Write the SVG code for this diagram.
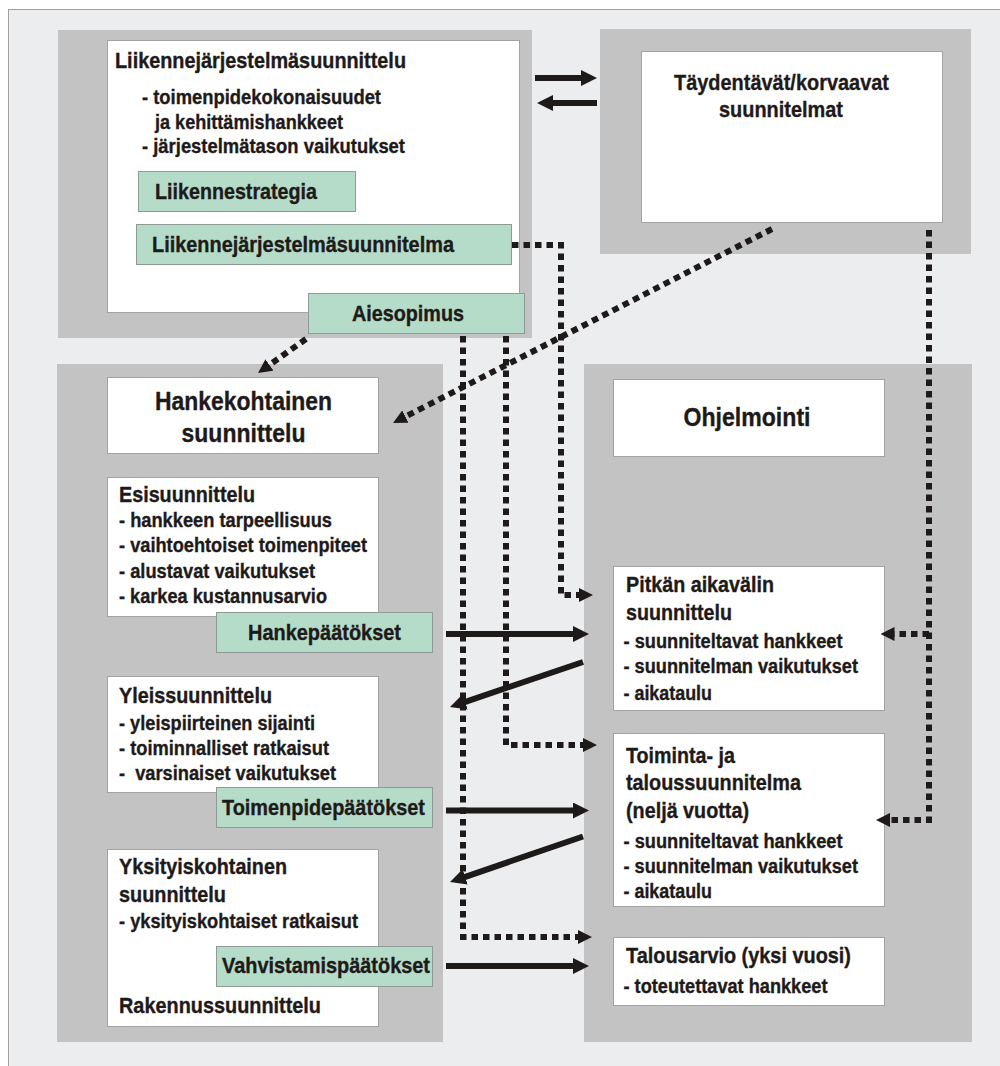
<svg xmlns="http://www.w3.org/2000/svg" width="1000" height="1066" viewBox="0 0 1000 1066">
  <defs>
    <style>
      text { font-family: "Liberation Sans Narrow", "Liberation Sans", Arial, sans-serif; font-weight: bold; fill: #1e1a1a; stroke: #1e1a1a; stroke-width: 0.35px; font-size: 20.5px; }
      .big { font-size: 26px; }
      .mid { font-size: 22.5px; }
      .head { font-size: 21.5px; }
      .sm { font-size: 19.5px; }
      .ctr { text-anchor: middle; }
      .pre { white-space: pre; }
      .panel { fill: #c3c3c3; }
      .box { fill: #ffffff; stroke: #a3a3a3; stroke-width: 1; }
      .tag { fill: #b5dcc8; stroke: #8d9b94; stroke-width: 1; }
      .solid { fill: none; stroke: #1e1a1a; stroke-width: 6; }
      .dot { fill: none; stroke: #1e1a1a; stroke-width: 6; stroke-dasharray: 6.5 5; }
    </style>
    <marker id="head" markerUnits="userSpaceOnUse" markerWidth="16" markerHeight="16" refX="6" refY="8" orient="auto">
      <path d="M0,0 L16,8 L0,16 z" fill="#1e1a1a"/>
    </marker>
    <marker id="dhead" markerUnits="userSpaceOnUse" markerWidth="14" markerHeight="14" refX="4" refY="7" orient="auto">
      <path d="M0,0 L14,7 L0,14 z" fill="#1e1a1a"/>
    </marker>
  </defs>

  <!-- page -->
  <rect x="0" y="0" width="1000" height="1066" fill="#ffffff"/>
  <rect x="8.5" y="9.5" width="1000" height="1066" fill="#ebedee" stroke="#a0a0a0" stroke-width="1"/>

  <!-- background panels -->
  <rect class="panel" x="58" y="30" width="474" height="308"/>
  <rect class="panel" x="600" y="29" width="371" height="225"/>
  <rect class="panel" x="57" y="364" width="386" height="678"/>
  <rect class="panel" x="584" y="364" width="388" height="678"/>

  <g id="liikennejarjestelmasuunnittelu">
    <rect class="box" x="107.5" y="40.5" width="412" height="272"/>
    <text class="head" x="115" y="68" textLength="291" lengthAdjust="spacingAndGlyphs">Liikennejärjestelmäsuunnittelu</text>
    <text x="142" y="104" textLength="239" lengthAdjust="spacingAndGlyphs">- toimenpidekokonaisuudet</text>
    <text x="155" y="129" textLength="188" lengthAdjust="spacingAndGlyphs">ja kehittämishankkeet</text>
    <text x="142" y="153" textLength="263" lengthAdjust="spacingAndGlyphs">- järjestelmätason vaikutukset</text>
  </g>

  <g id="liikennestrategia">
    <rect class="tag" x="138.5" y="171.5" width="217" height="40"/>
    <text class="head" x="155" y="199" textLength="162" lengthAdjust="spacingAndGlyphs">Liikennestrategia</text>
  </g>

  <g id="liikennejarjestelmasuunnitelma">
    <rect class="tag" x="136.5" y="224.5" width="375" height="40"/>
    <text class="head" x="152" y="252" textLength="302" lengthAdjust="spacingAndGlyphs">Liikennejärjestelmäsuunnitelma</text>
  </g>

  <g id="aiesopimus">
    <rect class="tag" x="308.5" y="293.5" width="216" height="40"/>
    <text class="head" x="352" y="321" textLength="112" lengthAdjust="spacingAndGlyphs">Aiesopimus</text>
  </g>

  <g id="taydentavat">
    <rect class="box" x="641.5" y="51.5" width="301" height="171"/>
    <text class="mid ctr" x="781.5" y="90" textLength="215" lengthAdjust="spacingAndGlyphs">Täydentävät/korvaavat</text>
    <text class="mid ctr" x="781" y="117" textLength="124" lengthAdjust="spacingAndGlyphs">suunnitelmat</text>
  </g>

  <g id="hankekohtainen">
    <rect class="box" x="107.5" y="377.5" width="271" height="76"/>
    <text class="big ctr" x="243.5" y="410" textLength="177" lengthAdjust="spacingAndGlyphs">Hankekohtainen</text>
    <text class="big ctr" x="243.5" y="442" textLength="124" lengthAdjust="spacingAndGlyphs">suunnittelu</text>
  </g>

  <g id="esisuunnittelu">
    <rect class="box" x="107.5" y="477.5" width="271" height="139"/>
    <text class="head" x="119" y="502" textLength="136" lengthAdjust="spacingAndGlyphs">Esisuunnittelu</text>
    <text x="119" y="527" textLength="213" lengthAdjust="spacingAndGlyphs">- hankkeen tarpeellisuus</text>
    <text x="119" y="552" textLength="248" lengthAdjust="spacingAndGlyphs">- vaihtoehtoiset toimenpiteet</text>
    <text x="119" y="577.5" textLength="196" lengthAdjust="spacingAndGlyphs">- alustavat vaikutukset</text>
    <text x="119" y="603" textLength="208" lengthAdjust="spacingAndGlyphs">- karkea kustannusarvio</text>
  </g>

  <g id="hankepaatokset">
    <rect class="tag" x="216.5" y="612.5" width="216" height="40"/>
    <text class="head" x="248" y="640" textLength="153" lengthAdjust="spacingAndGlyphs">Hankepäätökset</text>
  </g>

  <g id="yleissuunnittelu">
    <rect class="box" x="107.5" y="676.5" width="271" height="116"/>
    <text class="head" x="119" y="703" textLength="153" lengthAdjust="spacingAndGlyphs">Yleissuunnittelu</text>
    <text x="119" y="730" textLength="196" lengthAdjust="spacingAndGlyphs">- yleispiirteinen sijainti</text>
    <text x="119" y="755" textLength="210" lengthAdjust="spacingAndGlyphs">- toiminnalliset ratkaisut</text>
    <text class="pre" x="119" y="780" textLength="217" lengthAdjust="spacingAndGlyphs">-  varsinaiset vaikutukset</text>
  </g>

  <g id="toimenpidepaatokset">
    <rect class="tag" x="216.5" y="787.5" width="216" height="40"/>
    <text class="head" x="222" y="815" textLength="203" lengthAdjust="spacingAndGlyphs">Toimenpidepäätökset</text>
  </g>

  <g id="yksityiskohtainen">
    <rect class="box" x="107.5" y="849.5" width="271" height="177"/>
    <text class="head" x="119" y="874" textLength="168" lengthAdjust="spacingAndGlyphs">Yksityiskohtainen</text>
    <text class="head" x="119" y="901.5" textLength="107" lengthAdjust="spacingAndGlyphs">suunnittelu</text>
    <text x="119" y="928" textLength="239" lengthAdjust="spacingAndGlyphs">- yksityiskohtaiset ratkaisut</text>
    <text class="head" x="119" y="1013" textLength="202" lengthAdjust="spacingAndGlyphs">Rakennussuunnittelu</text>
  </g>

  <g id="vahvistamispaatokset">
    <rect class="tag" x="216.5" y="946.5" width="216" height="40"/>
    <text class="head" x="222" y="973" textLength="208" lengthAdjust="spacingAndGlyphs">Vahvistamispäätökset</text>
  </g>

  <g id="ohjelmointi">
    <rect class="box" x="613.5" y="379.5" width="271" height="77"/>
    <text class="big ctr" x="747" y="426" textLength="127" lengthAdjust="spacingAndGlyphs">Ohjelmointi</text>
  </g>

  <g id="pitkan-aikavalin">
    <rect class="box" x="613.5" y="566.5" width="271" height="144"/>
    <text class="head" x="626" y="592" textLength="148" lengthAdjust="spacingAndGlyphs">Pitkän aikavälin</text>
    <text class="head" x="626" y="620" textLength="106" lengthAdjust="spacingAndGlyphs">suunnittelu</text>
    <text class="sm" x="623.5" y="648" textLength="219" lengthAdjust="spacingAndGlyphs">- suunniteltavat hankkeet</text>
    <text class="sm" x="623.5" y="673" textLength="234.5" lengthAdjust="spacingAndGlyphs">- suunnitelman vaikutukset</text>
    <text class="sm" x="623.5" y="700" textLength="88.5" lengthAdjust="spacingAndGlyphs">- aikataulu</text>
  </g>

  <g id="toiminta-ja-taloussuunnitelma">
    <rect class="box" x="613.5" y="733.5" width="271" height="173"/>
    <text class="head" x="626" y="763" textLength="109" lengthAdjust="spacingAndGlyphs">Toiminta- ja</text>
    <text class="head" x="626" y="790" textLength="175" lengthAdjust="spacingAndGlyphs">taloussuunnitelma</text>
    <text class="head" x="626" y="818" textLength="123" lengthAdjust="spacingAndGlyphs">(neljä vuotta)</text>
    <text class="sm" x="623.5" y="848" textLength="219" lengthAdjust="spacingAndGlyphs">- suunniteltavat hankkeet</text>
    <text class="sm" x="623.5" y="873" textLength="234.5" lengthAdjust="spacingAndGlyphs">- suunnitelman vaikutukset</text>
    <text class="sm" x="623.5" y="898" textLength="88.5" lengthAdjust="spacingAndGlyphs">- aikataulu</text>
  </g>

  <g id="talousarvio">
    <rect class="box" x="613.5" y="937.5" width="271" height="68"/>
    <text class="head" x="626" y="963" textLength="225" lengthAdjust="spacingAndGlyphs">Talousarvio (yksi vuosi)</text>
    <text class="sm" x="623.5" y="993" textLength="204" lengthAdjust="spacingAndGlyphs">- toteutettavat hankkeet</text>
  </g>

  <g id="connectors">
    <!-- exchange between the two upper planning levels -->
    <path class="solid" d="M535,78 H587" marker-end="url(#head)"/>
    <path class="solid" d="M597,103 H547" marker-end="url(#head)"/>
    <!-- decisions to programming -->
    <path class="solid" d="M446,634 H579" marker-end="url(#head)"/>
    <path class="solid" d="M583,662 L459.5,703.8" marker-end="url(#head)"/>
    <path class="solid" d="M446,810.5 H579" marker-end="url(#head)"/>
    <path class="solid" d="M583,836.5 L459.5,878.8" marker-end="url(#head)"/>
    <path class="solid" d="M446,966 H579" marker-end="url(#head)"/>
    <!-- dotted links -->
    <path class="dot" d="M512,245 H561 V595 H583" marker-end="url(#dhead)"/>
    <path class="dot" d="M463,336 V937 H582" marker-end="url(#dhead)"/>
    <path class="dot" d="M506,336 V745 H587" marker-end="url(#dhead)"/>
    <path class="dot" d="M306,339 L266.2,367.2" marker-end="url(#dhead)"/>
    <path class="dot" d="M772,229 L401.9,418.4" marker-end="url(#dhead)"/>
    <path class="dot" d="M929,230 V820 H886" marker-end="url(#dhead)"/>
    <path class="dot" d="M929,634 H890.5" marker-end="url(#dhead)"/>
  </g>
</svg>
